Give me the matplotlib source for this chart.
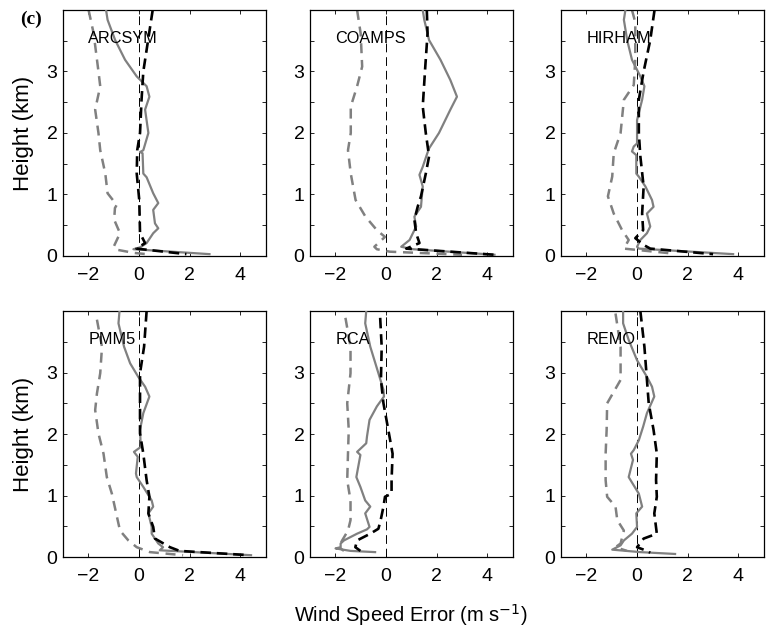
import matplotlib.pyplot as plt
import numpy as np

plt.rcParams['font.family'] = 'Liberation Sans'

# ---- profile data: (height km, wind speed error m/s), top to bottom ----
models = ['ARCSYM', 'COAMPS', 'HIRHAM', 'PMM5', 'RCA', 'REMO']

arcsym_solid = [(4.0, -1.3), (3.84, -1.24), (3.51, -0.94), (3.19, -0.55), (2.92, -0.09),
                (2.76, 0.3), (2.59, 0.41), (2.38, 0.24), (2.0, 0.37), (1.72, 0.17),
                (1.69, 0.04), (1.67, 0.14), (1.34, 0.17), (1.28, 0.3), (1.02, 0.56),
                (0.86, 0.76), (0.75, 0.56), (0.53, 0.63), (0.45, 0.76), (0.37, 0.56),
                (0.21, 0.3), (0.14, 0.04), (0.11, -0.22), (0.03, 2.78)]
arcsym_dash = [(4.0, -1.99), (3.62, -1.79), (3.0, -1.6), (2.76, -1.53), (2.38, -1.73),
               (2.0, -1.6), (1.72, -1.53), (1.34, -1.33), (1.02, -1.24), (0.83, -0.88),
               (0.78, -0.95), (0.59, -0.98), (0.37, -0.75), (0.15, -1.0), (0.1, -0.85),
               (0.05, -0.2), (0.03, 0.3)]
arcsym_black = [(4.0, 0.54), (3.0, 0.17), (2.54, 0.1), (2.0, 0.04), (1.72, -0.07),
                (1.34, -0.09), (0.91, 0.01), (0.37, 0.04), (0.21, 0.24), (0.12, -0.1),
                (0.03, 1.87)]

coamps_solid = [(4.0, 1.45), (3.84, 1.51), (3.51, 1.7), (3.19, 2.15), (2.86, 2.54),
                (2.59, 2.8), (2.38, 2.54), (2.0, 2.09), (1.75, 1.7), (1.67, 1.63),
                (1.45, 1.45), (1.32, 1.32), (1.13, 1.45), (0.8, 1.38), (0.64, 1.12),
                (0.48, 1.19), (0.37, 1.06), (0.26, 0.93), (0.15, 0.6), (0.11, 1.06),
                (0.02, 4.28)]
coamps_dash = [(4.0, -1.14), (3.62, -1.0), (3.08, -0.94), (2.76, -1.14), (2.43, -1.39),
               (2.0, -1.39), (1.72, -1.5), (1.34, -1.39), (0.91, -1.2), (0.64, -0.81),
               (0.42, -0.36), (0.31, -0.04), (0.15, -0.46), (0.11, -0.36), (0.07, 0.15),
               (0.02, 3.0)]
coamps_black = [(4.0, 1.61), (3.62, 1.64), (3.08, 1.55), (2.43, 1.45), (2.0, 1.57),
                (1.62, 1.7), (1.34, 1.57), (0.97, 1.38), (0.8, 1.25), (0.59, 1.12),
                (0.37, 1.19), (0.21, 1.32), (0.12, 0.8), (0.02, 4.28)]

hirham_solid = [(4.0, -0.46), (3.84, -0.52), (3.51, -0.39), (3.19, -0.2), (2.92, 0.13),
                (2.76, 0.29), (2.54, 0.2), (2.21, 0.0), (1.83, 0.0), (1.78, -0.13),
                (1.7, -0.2), (1.64, -0.03), (1.34, -0.03), (1.29, 0.07), (1.13, 0.33),
                (0.91, 0.59), (0.8, 0.65), (0.69, 0.39), (0.48, 0.52), (0.37, 0.39),
                (0.26, 0.13), (0.15, 0.0), (0.12, 0.07), (0.03, 3.79)]
hirham_dash = [(4.0, -0.2), (3.8, -0.07), (3.2, -0.07), (2.78, -0.13), (2.54, -0.52),
               (2.0, -0.65), (1.67, -0.92), (1.29, -0.98), (0.97, -1.15), (0.69, -0.92),
               (0.42, -0.59), (0.26, -0.33), (0.12, -0.52), (0.04, 1.4)]
hirham_black = [(4.0, 0.69), (3.51, 0.52), (3.0, 0.26), (2.54, 0.07), (2.0, 0.07),
                (1.62, 0.13), (1.13, 0.26), (0.69, 0.2), (0.42, 0.24), (0.29, -0.07),
                (0.18, 0.26), (0.12, 0.52), (0.03, 3.0)]

pmm5_solid = [(4.0, -0.77), (3.8, -0.81), (3.42, -0.59), (3.15, -0.35), (2.93, -0.03),
              (2.77, 0.24), (2.61, 0.41), (2.34, 0.17), (2.07, 0.04), (1.79, 0.07),
              (1.71, -0.2), (1.63, -0.05), (1.36, -0.12), (1.3, -0.09), (1.14, 0.17),
              (0.92, 0.5), (0.82, 0.56), (0.71, 0.37), (0.49, 0.5), (0.38, 0.5),
              (0.22, 0.76), (0.16, 0.95), (0.11, 0.82), (0.03, 4.42)]
pmm5_dash = [(3.86, -1.66), (3.42, -1.46), (2.99, -1.53), (2.66, -1.66), (2.39, -1.73),
             (2.01, -1.6), (1.68, -1.4), (1.3, -1.27), (1.03, -1.07), (0.71, -0.9),
             (0.43, -0.75), (0.27, -0.42), (0.16, -0.09), (0.08, 0.43), (0.03, 1.74)]
pmm5_black = [(4.0, 0.3), (3.42, 0.2), (2.99, 0.04), (2.45, 0.04), (2.01, 0.04),
              (1.68, 0.17), (1.25, 0.3), (0.98, 0.41), (0.71, 0.37), (0.49, 0.56),
              (0.3, 0.63), (0.16, 1.22), (0.1, 1.6), (0.03, 4.35)]

rca_solid = [(4.0, -0.78), (3.8, -0.82), (3.42, -0.62), (2.99, -0.3), (2.72, -0.1),
             (2.61, -0.08), (2.45, -0.36), (2.23, -0.65), (1.96, -0.75), (1.85, -0.78),
             (1.71, -1.14), (1.66, -1.01), (1.3, -1.17), (1.14, -1.01), (0.92, -0.82),
             (0.82, -0.62), (0.71, -0.82), (0.49, -0.65), (0.45, -0.75), (0.38, -1.14),
             (0.27, -1.66), (0.22, -1.79), (0.16, -1.79), (0.14, -1.99), (0.1, -1.4),
             (0.08, -0.43)]
rca_dash = [(3.89, -1.6), (3.42, -1.4), (2.99, -1.4), (2.5, -1.53), (2.07, -1.47),
            (1.68, -1.5), (1.25, -1.53), (0.92, -1.4), (0.6, -1.4), (0.43, -1.5),
            (0.27, -1.73), (0.16, -1.86), (0.1, -1.66)]
rca_black = [(3.89, -0.23), (3.42, -0.17), (2.88, -0.2), (2.5, -0.1), (2.07, 0.09),
             (1.68, 0.26), (1.25, 0.22), (1.03, 0.22), (0.98, -0.04), (0.82, -0.1),
             (0.6, -0.21), (0.46, -0.3), (0.38, -0.62), (0.27, -1.14), (0.16, -1.21),
             (0.1, -1.01)]

remo_solid = [(4.0, -0.55), (3.8, -0.55), (3.53, -0.33), (3.2, 0.0), (2.93, 0.39),
              (2.77, 0.59), (2.61, 0.68), (2.34, 0.39), (2.12, 0.24), (1.9, 0.07),
              (1.74, -0.13), (1.68, -0.24), (1.58, -0.16), (1.3, -0.33), (1.03, 0.07),
              (0.82, 0.2), (0.71, -0.03), (0.49, 0.0), (0.38, -0.2), (0.27, -0.52),
              (0.19, -0.65), (0.12, -0.98), (0.08, 0.13), (0.05, 1.5)]
remo_dash = [(3.96, -0.85), (3.42, -0.65), (2.88, -0.65), (2.5, -1.18), (2.07, -1.2),
             (1.68, -1.24), (1.25, -1.24), (0.98, -1.18), (0.82, -0.85), (0.6, -0.78),
             (0.43, -0.52), (0.22, -0.65), (0.16, -0.85), (0.1, -0.4)]
remo_black = [(4.0, 0.13), (3.42, 0.29), (2.88, 0.39), (2.5, 0.46), (2.07, 0.65),
              (1.68, 0.78), (1.25, 0.75), (0.98, 0.78), (0.71, 0.68), (0.38, 0.78),
              (0.3, 0.26), (0.16, 0.0), (0.1, 0.39), (0.07, 0.52)]

profiles = [
    (arcsym_solid, arcsym_dash, arcsym_black),
    (coamps_solid, coamps_dash, coamps_black),
    (hirham_solid, hirham_dash, hirham_black),
    (pmm5_solid, pmm5_dash, pmm5_black),
    (rca_solid, rca_dash, rca_black),
    (remo_solid, remo_dash, remo_black),
]

############# figure and axes layout ###############
fig = plt.figure(figsize=(7.68, 6.33), dpi=100)
lefts = [0.082, 0.4036, 0.7305]
bottoms = [0.5956, 0.12]
w, h = 0.264, 0.3886
gray = '#808080'

for i, (name, (solid, dash, black)) in enumerate(zip(models, profiles)):
    ax = fig.add_axes([lefts[i % 3], bottoms[i // 3], w, h])

    # zero reference line
    ax.axvline(0, color='k', lw=0.7, ls=(0, (9, 5)), zorder=1)

    z, e = zip(*dash)
    ax.plot(e, z, color=gray, lw=1.8, ls=(0, (4, 2.7)), zorder=2)
    z, e = zip(*solid)
    ax.plot(e, z, color=gray, lw=1.6, zorder=3)
    z, e = zip(*black)
    ax.plot(e, z, color='k', lw=1.9, ls=(0, (4, 2.2)), zorder=4)

    ax.set_xlim(-3, 5)
    ax.set_ylim(0, 4)
    ax.set_xticks([-2, 0, 2, 4])
    ax.set_xticklabels(['\u22122', '0', '2', '4'])
    ax.set_yticks(np.arange(0, 4.0, 0.5))
    ax.set_yticklabels(['0', '', '1', '', '2', '', '3', ''])
    ax.tick_params(direction='in', top=True, right=True, labelsize=14,
                   length=3, width=0.6)
    ax.tick_params(axis='x', pad=8)
    ax.tick_params(axis='y', pad=4)
    for sp in ax.spines.values():
        sp.set_linewidth(0.9)

    ax.text(-2, 3.46, name, fontsize=11.7, ha='left', va='baseline')

    if i % 3 == 0:
        # y label centred on the axes, placed in figure coords
        yc = bottoms[i // 3] + h / 2
        fig.text(0.0306, yc, 'Height (km)', fontsize=16, rotation=90,
                 ha='center', va='center')

fig.text(0.535, 0.0174, 'Wind Speed Error (m s$^{-1}$)', fontsize=14.5,
         ha='center', va='baseline')
fig.text(0.040, 0.969, '(c)', fontsize=14, fontweight='bold',
         family='Liberation Serif', ha='center', va='center')

plt.savefig('out.png', dpi=100)
